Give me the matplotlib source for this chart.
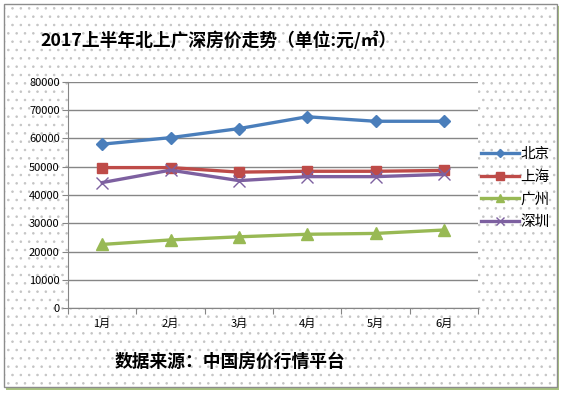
import matplotlib
matplotlib.use("Agg")
import matplotlib.pyplot as plt
from matplotlib.patches import Rectangle
from matplotlib.ticker import FixedLocator, NullFormatter

plt.rcParams['font.family'] = ['Noto Sans CJK SC', 'DejaVu Sans']
plt.rcParams['hatch.color'] = "#C4C4C4"
plt.rcParams['hatch.linewidth'] = 0.6

months = ["1月", "2月", "3月", "4月", "5月", "6月"]
beijing = [58000, 60300, 63500, 67700, 66100, 66100]
shanghai = [49700, 49700, 48100, 48400, 48400, 48700]
guangzhou = [22500, 24100, 25200, 26100, 26400, 27600]
shenzhen = [44400, 48800, 45100, 46500, 46500, 47300]

series = [
    ("北京", beijing, "#4A7EBB", "D", 6.5),
    ("上海", shanghai, "#BE4B48", "s", 7.5),
    ("广州", guangzhou, "#98B954", "^", 8),
    ("深圳", shenzhen, "#7D60A0", "x", 8),
]

fig = plt.figure(figsize=(5.65, 3.95), dpi=100)
W, H = 565, 395

# chart frame: shadow, dotted background, border
fig.patches.append(Rectangle((6 / W, 5 / H), 553 / W, 384 / H, transform=fig.transFigure,
                             facecolor="#A9C47F", edgecolor="none", zorder=0))
fig.patches.append(Rectangle((4 / W, 8 / H), 553 / W, 383 / H, transform=fig.transFigure,
                             facecolor="white", edgecolor="none", zorder=0.5))
fig.patches.append(Rectangle((4 / W, 8 / H), 553 / W, 383 / H, transform=fig.transFigure,
                             facecolor="none", edgecolor="#C4C4C4", hatch="..", lw=0, zorder=0.6))
fig.patches.append(Rectangle((4 / W, 8 / H), 553 / W, 383 / H, transform=fig.transFigure,
                             facecolor="none", edgecolor="#8C8C8C", lw=1, zorder=0.7))

ax = fig.add_axes([68 / W, 87 / H, 410 / W, 226 / H])
ax.set_facecolor("white")
ax.set_zorder(2)

x = list(range(len(months)))
for name, vals, color, marker, ms in series:
    if marker == "x":
        ax.plot(x, vals, color=color, lw=2.4, marker=marker, ms=ms, mew=1.0, label=name, zorder=3)
    else:
        ax.plot(x, vals, color=color, lw=2.4, marker=marker, ms=ms, label=name, zorder=3)

ax.set_ylim(0, 80000)
ax.set_yticks(range(0, 80001, 10000))
ax.set_xlim(-0.5, len(months) - 0.5)
ax.xaxis.set_major_locator(FixedLocator([i - 0.5 for i in range(len(months) + 1)]))
ax.xaxis.set_major_formatter(NullFormatter())
ax.xaxis.set_minor_locator(FixedLocator(x))
ax.set_xticklabels(months, minor=True)
ax.tick_params(axis="x", which="minor", length=0, labelsize=8, pad=8)
ax.tick_params(axis="x", which="major", length=4, color="#868686", direction="out")
ax.tick_params(axis="y", length=4, color="#868686", labelsize=8, pad=2)
ax.grid(axis="y", color="#868686", lw=1)
ax.set_axisbelow(True)
for s in ["top", "right"]:
    ax.spines[s].set_visible(False)
for s in ["left", "bottom"]:
    ax.spines[s].set_color("#868686")

leg = fig.legend(loc="upper left", bbox_to_anchor=(481 / W, 1 - 147 / H), frameon=False,
                 fontsize=10.5, handlelength=2.6, handletextpad=0.1, labelspacing=0.6,
                 borderpad=0, borderaxespad=0, markerscale=0.7)

fig.text(40 / W, 1 - 41 / H, "2017上半年北上广深房价走势（单位:元/㎡）", fontsize=12.8,
         fontweight="bold", va="center", ha="left")
fig.text(230 / W, 1 - 362 / H, "数据来源：中国房价行情平台", fontsize=12.8,
         fontweight="bold", va="center", ha="center")

fig.savefig("out.png", dpi=100)
